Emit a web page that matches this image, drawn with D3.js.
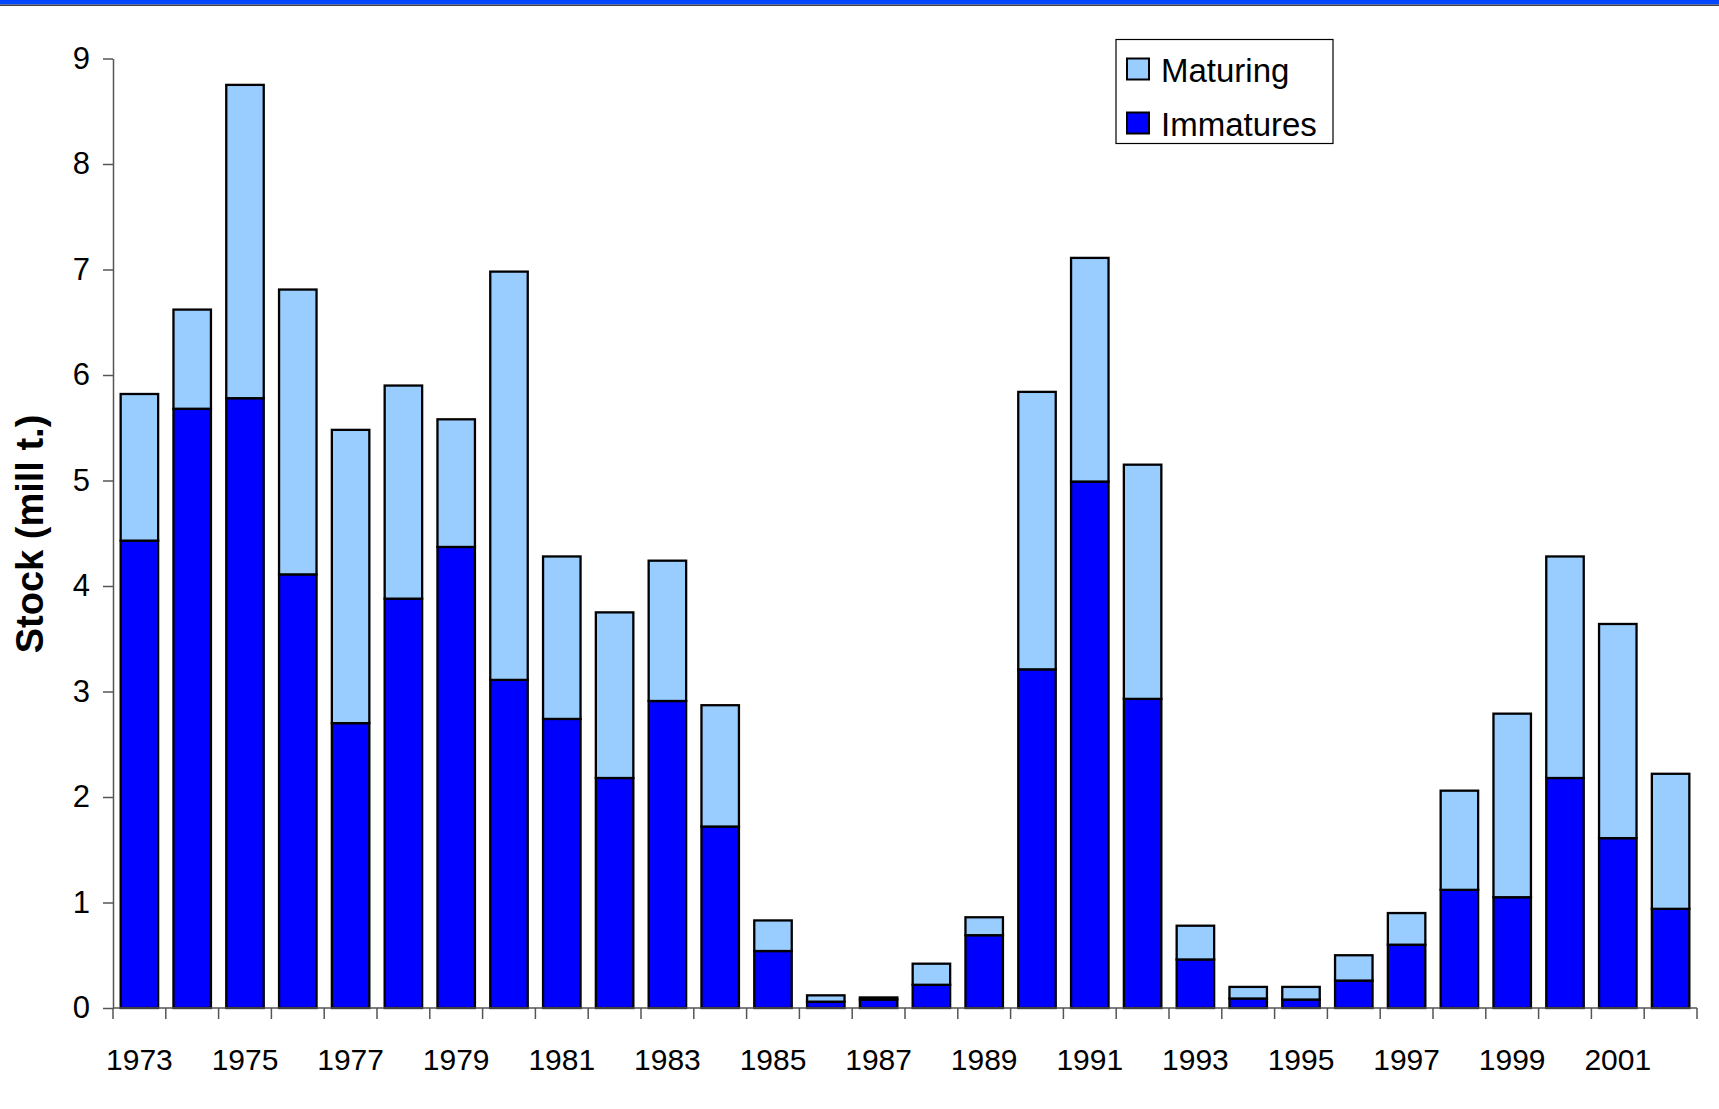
<!DOCTYPE html>
<html>
<head>
<meta charset="utf-8">
<script src="https://cdn.jsdelivr.net/npm/d3@7"></script>
<style>
  body { margin: 0; background: #fff; }
  svg { display: block; font-family: "Liberation Sans", Arial, sans-serif; }
</style>
</head>
<body>
<div id="chart"></div>
<script>
// years on the x axis
const years = d3.range(1973, 2003);
// immature stock (mill t.)
const immatures = [4.43, 5.68, 5.78, 4.11, 2.70, 3.88, 4.37, 3.11, 2.74, 2.18,
                   2.91, 1.72, 0.54, 0.06, 0.08, 0.22, 0.69, 3.21, 4.99, 2.93,
                   0.46, 0.09, 0.08, 0.26, 0.60, 1.12, 1.05, 2.18, 1.61, 0.94];
// maturing stock (mill t.), stacked on top
const maturing = [1.39, 0.94, 2.97, 2.70, 2.78, 2.02, 1.21, 3.87, 1.54, 1.57,
                  1.33, 1.15, 0.29, 0.06, 0.02, 0.20, 0.17, 2.63, 2.12, 2.22,
                  0.32, 0.11, 0.12, 0.24, 0.30, 0.94, 1.74, 2.10, 2.03, 1.28];
const yTicks = [0, 1, 2, 3, 4, 5, 6, 7, 8, 9];
const xLabels = years.filter(y => (y - 1973) % 2 === 0);

const width = 1719, height = 1109;
const margin = {top: 58.5, right: 22, bottom: 101, left: 113};

const svg = d3.select("#chart").append("svg")
    .attr("width", width)
    .attr("height", height);

// top banner
svg.append("rect").attr("x", 0).attr("y", 0).attr("width", width).attr("height", 4.5).attr("fill", "#0047ff");
svg.append("rect").attr("x", 0).attr("y", 4.5).attr("width", width).attr("height", 1.5).attr("fill", "#444");

const x = d3.scaleBand()
    .domain(years)
    .range([margin.left, width - margin.right])
    .paddingInner(0.29)
    .paddingOuter(0.145);

const y = d3.scaleLinear()
    .domain([0, 9])
    .range([height - margin.bottom, margin.top]);

const table = years.map((yr, i) => ({year: yr, Immatures: immatures[i], Maturing: maturing[i]}));
const stack = d3.stack().keys(["Immatures", "Maturing"]);
const series = stack(table);
const colors = {Immatures: "#0000ff", Maturing: "#99ccff"};

const g = svg.append("g");
g.selectAll("g.series")
  .data(series)
  .join("g")
    .attr("class", "series")
    .attr("fill", d => colors[d.key])
  .selectAll("rect")
  .data(d => d)
  .join("rect")
    .attr("x", d => x(d.data.year))
    .attr("y", d => y(d[1]))
    .attr("width", x.bandwidth())
    .attr("height", d => y(d[0]) - y(d[1]))
    .attr("stroke", "#000")
    .attr("stroke-width", 2.3);

// y axis
const yAxis = svg.append("g")
    .attr("transform", `translate(${margin.left},0)`)
    .call(d3.axisLeft(y).tickValues(yTicks).tickSize(10).tickPadding(13).tickSizeOuter(0));
yAxis.select(".domain").attr("stroke", "#555").attr("stroke-width", 1.5);
yAxis.selectAll(".tick line").attr("stroke", "#555").attr("stroke-width", 1.5);
yAxis.selectAll("text").attr("font-size", 31).attr("fill", "#000")
    .attr("font-family", "Liberation Sans, Arial, sans-serif");

// x axis: ticks between categories
const xAxisY = y(0);
const xg = svg.append("g");
xg.append("line")
    .attr("x1", margin.left).attr("x2", width - margin.right)
    .attr("y1", xAxisY).attr("y2", xAxisY)
    .attr("stroke", "#555").attr("stroke-width", 1.5);
const step = x.step();
const bounds = years.map(yr => x(yr) - x.paddingOuter() * step).concat([width - margin.right]);
xg.selectAll("line.tick")
  .data(bounds)
  .join("line")
    .attr("class", "tick")
    .attr("x1", d => d).attr("x2", d => d)
    .attr("y1", xAxisY).attr("y2", xAxisY + 11)
    .attr("stroke", "#555").attr("stroke-width", 1.5);
xg.selectAll("text")
  .data(xLabels)
  .join("text")
    .attr("x", d => x(d) + x.bandwidth() / 2)
    .attr("y", xAxisY + 62)
    .attr("text-anchor", "middle")
    .attr("font-size", 30)
    .text(d => d);

// y title
svg.append("text")
    .attr("transform", `translate(43,534) rotate(-90)`)
    .attr("text-anchor", "middle")
    .attr("font-size", 38)
    .attr("font-weight", "bold")
    .text("Stock (mill t.)");

// legend
const legend = svg.append("g").attr("transform", "translate(1116,39.5)");
legend.append("rect")
    .attr("width", 217).attr("height", 104)
    .attr("fill", "#fff").attr("stroke", "#000").attr("stroke-width", 1.2);
const legendItems = ["Maturing", "Immatures"];
legend.selectAll("g.item")
  .data(legendItems)
  .join("g")
    .attr("class", "item")
    .attr("transform", (d, i) => `translate(11,${19 + i * 54})`)
    .each(function(d) {
      const it = d3.select(this);
      it.append("rect").attr("width", 22).attr("height", 21)
        .attr("fill", colors[d]).attr("stroke", "#000").attr("stroke-width", 2);
      it.append("text").attr("x", 34).attr("y", 23).attr("font-size", 33).text(d);
    });
</script>
</body>
</html>
